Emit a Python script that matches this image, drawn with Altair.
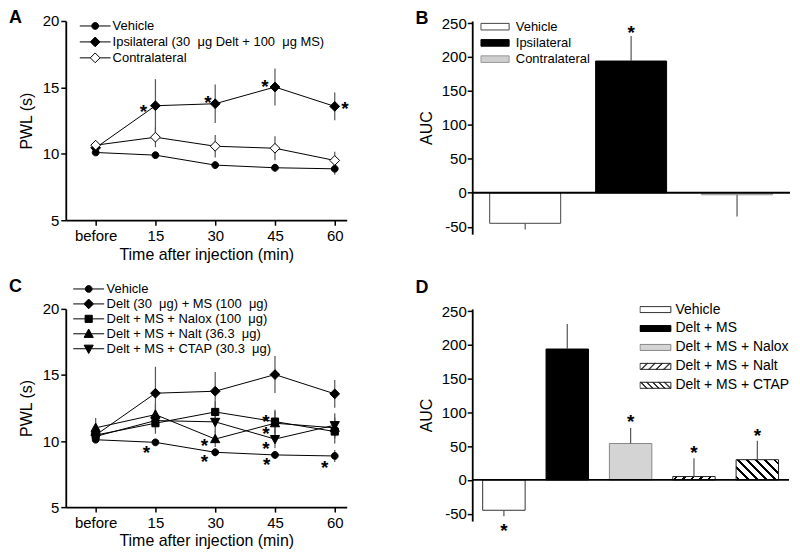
import altair as alt
import pandas as pd

FONT = "Liberation Sans"
MU = "\u03bc"
GAP = "\u00a0 "

# ---------------- data ----------------
time_labels = ["before", "15", "30", "45", "60"]
time_index = [0, 1, 2, 3, 4]
pwl_ticks = [5, 10, 15, 20]
auc_ticks = [-50, 0, 50, 100, 150, 200, 250]

a_series = ["Vehicle",
            f"Ipsilateral (30{GAP}{MU}g Delt + 100{GAP}{MU}g MS)",
            "Contralateral"]
vehicle_pwl = [10.10, 9.90, 9.15, 8.95, 8.87]
vehicle_sem = [0.20, 0.20, 0.30, 0.30, 0.45]
delt_ms_pwl = [10.45, 13.62, 13.77, 15.03, 13.57]
delt_ms_sem = [0.20, 2.00, 1.45, 1.40, 1.05]
contra_pwl = [10.65, 11.25, 10.57, 10.42, 9.50]
contra_sem = [0.20, 0.75, 0.85, 0.90, 0.65]

c_series = ["Vehicle",
            f"Delt (30{GAP}{MU}g) + MS (100{GAP}{MU}g)",
            f"Delt + MS + Nalox (100{GAP}{MU}g)",
            f"Delt + MS + Nalt (36.3{GAP}{MU}g)",
            f"Delt + MS + CTAP (30.3{GAP}{MU}g)"]
nalox_pwl = [10.45, 11.35, 12.20, 11.47, 10.72]
nalox_sem = [0.30, 0.80, 0.80, 0.90, 0.90]
nalt_pwl = [11.00, 12.00, 10.15, 11.35, 11.00]
nalt_sem = [0.75, 0.80, 0.60, 0.90, 0.80]
ctap_pwl = [10.35, 11.55, 11.45, 10.15, 11.20]
ctap_sem = [0.30, 0.70, 0.80, 0.70, 0.90]

b_groups = ["Vehicle", "Ipsilateral", "Contralateral"]
b_auc = [-45, 194, -3]
b_sem = [9, 37, 32]

d_groups = ["Vehicle", "Delt + MS", "Delt + MS + Nalox", "Delt + MS + Nalt", "Delt + MS + CTAP"]
d_auc = [-45, 194, 54, 5, 30]
d_sem = [9, 37, 23, 27, 28]

# significance asterisks (data coordinates)
a_star_x = [0.80, 1.88, 2.83, 4.17]
a_star_y = [13.55, 14.23, 15.43, 13.78]
c_star_x = [0.85, 1.82, 1.82, 2.85, 2.85, 2.85, 2.86, 3.83]
c_star_y = [9.45, 10.03, 8.79, 11.84, 10.90, 9.79, 8.57, 8.32]
b_star_group = ["Ipsilateral"]
b_star_y = [242.7]
d_star_group = ["Vehicle", "Delt + MS + Nalox", "Delt + MS + Nalt", "Delt + MS + CTAP"]
d_star_y = [-68.4, 93.6, 46.8, 72.9]

# ---------------- layout / style ----------------
LW, LH = 282, 200      # line panels
CH = 199
B_W, B_H, B_DOM = 319, 214, [-61, 253]
D_W, D_H, D_DOM = 318, 213, [-61, 253.5]
PAD_IN, PAD_OUT = 0.33, 0.165


def num(v):
    s = f"{v:.4f}".rstrip("0").rstrip(".")
    return "0" if s in ("", "-0") else s


MARKER_PX = {"circle": 3.4, "diamond": 4.9, "square": 3.6,
             "up": (4.6, -4.8, 3.6), "down": (4.6, 4.8, -3.6)}


def marker_path(kind, unit, with_line=False):
    def p(v):
        return num(v / unit)
    if kind == "circle":
        r = MARKER_PX[kind]; edge = r
        body = f"M{p(-r)},0A{p(r)},{p(r)},0,1,0,{p(r)},0A{p(r)},{p(r)},0,1,0,{p(-r)},0Z"
    elif kind == "diamond":
        r = MARKER_PX[kind]; edge = r
        body = f"M{p(-r)},0L0,{p(-r)}L{p(r)},0L0,{p(r)}Z"
    elif kind == "square":
        r = MARKER_PX[kind]; edge = r
        body = f"M{p(-r)},{p(-r)}H{p(r)}V{p(r)}H{p(-r)}Z"
    else:
        hw, apex, base = MARKER_PX[kind]
        edge = hw * abs(apex) / abs(base - apex)
        body = f"M0,{p(apex)}L{p(hw)},{p(base)}L{p(-hw)},{p(base)}Z"
    if with_line:
        return f"M-1,0H{p(-edge)}M{p(edge)},0H1" + body
    return body


def rect_path(hw, hh, unit):
    return f"M{num(-hw/unit)},{num(-hh/unit)}H{num(hw/unit)}V{num(hh/unit)}H{num(-hw/unit)}Z"


def hatch_path(hw, hh, unit, direction, starts, slant=6.0, width=0.8):
    out = rect_path(hw, hh, unit)
    for b in starts:
        if direction == "/":
            pts = [(b, hh), (b + slant, -hh), (b + slant + width, -hh), (b + width, hh)]
        else:
            pts = [(b, -hh), (b + width, -hh), (b + slant + width, hh), (b + slant, hh)]
        out += "M" + "L".join(f"{num(x/unit)},{num(y/unit)}" for x, y in pts) + "Z"
    return out


def hatch_fill(w, h, direction, period, black, phase=0.0):
    k = (w + h) / (w * w + h * h)
    if direction == "/":
        x1, y1, x2, y2 = 0, 0, w * k, h * k
    else:
        x1, y1, x2, y2 = 0, 1, w * k, 1 - h * k
    total = w + h
    stops = [{"offset": 0, "color": "white"}]
    s = phase - period
    while s < total:
        a, b = max(s, 0.0), min(s + black, total)
        if b > a:
            stops += [{"offset": a / total, "color": "white"},
                      {"offset": a / total, "color": "black"},
                      {"offset": b / total, "color": "black"},
                      {"offset": b / total, "color": "white"}]
        s += period
    stops.append({"offset": 1, "color": "white"})
    return {"gradient": "linear", "x1": x1, "y1": y1, "x2": x2, "y2": y2, "stops": stops}


def legend_kw(x, y, clip, pad, offset, size, fs):
    return dict(orient="none", legendX=x, legendY=y, title=None, padding=0, rowPadding=pad,
                clipHeight=clip, labelOffset=offset, symbolSize=size, symbolOffset=0,
                symbolStrokeWidth=1, symbolOpacity=1,
                labelFont=FONT, labelFontSize=fs, labelColor="black", labelLimit=600)


def title_kw(text, offset):
    return alt.TitleParams(text=text, anchor="start", frame="group", dx=-57, offset=offset,
                           baseline="top", fontSize=18, fontWeight="bold", font=FONT, color="black")


STAR = dict(text="*", fontSize=19, fontWeight="bold", dy=5, color="black", font=FONT)
INDEP = dict(color="independent", fill="independent", stroke="independent", shape="independent")


def legend_layer(base, field, domain, fills, strokes, paths, leg, size, X, Y):
    # carries only the legend: no rows reach the marks, the scales have explicit domains
    return base.transform_filter("false").mark_point(
        filled=True, size=size, strokeWidth=1).encode(
        x=X, y=Y,
        color=alt.Color(f"{field}:N", scale=alt.Scale(domain=domain, range=fills),
                        legend=alt.Legend(**leg)),
        stroke=alt.Stroke(f"{field}:N", scale=alt.Scale(domain=domain, range=strokes),
                          legend=alt.Legend(**leg)),
        shape=alt.Shape(f"{field}:N", scale=alt.Scale(domain=domain, range=paths),
                        legend=alt.Legend(**leg)))


def line_panel(series, kinds, fills, pwl, sem, star_x, star_y, leg, title, W, H):
    rows = []
    for name, vals, errs in zip(series, pwl, sem):
        for t, v, e in zip(time_index, vals, errs):
            rows.append({"series": name, "t": t, "v": v, "lo": v - e, "hi": v + e})
    df = pd.DataFrame(rows)
    label_expr = "[" + ",".join(f"'{l}'" for l in time_labels) + "][datum.value]"
    x_scale = alt.Scale(domain=[-0.5, 4.2], nice=False, zero=False)
    y_scale = alt.Scale(domain=[5, 20], nice=False, zero=False)
    x_axis = alt.Axis(values=time_index, labelExpr=label_expr, title="Time after injection (min)",
                      tickSize=5, labelPadding=3, titlePadding=3, labelFlush=False, labelOverlap=False)
    y_axis = alt.Axis(values=pwl_ticks, title="PWL (s)", tickSize=5, labelPadding=2, titlePadding=8,
                      labelFlush=False, labelOverlap=False)

    def X(f):
        return alt.X(f"{f}:Q", scale=x_scale, axis=x_axis)

    def Y(f):
        return alt.Y(f"{f}:Q", scale=y_scale, axis=y_axis)

    base = alt.Chart(df)
    err = base.mark_rule(color="#555", strokeWidth=1.2).encode(
        x=X("t"), y=Y("lo"), y2=alt.Y2("hi:Q"), detail="series:N")
    lines = base.mark_line(color="black", strokeWidth=1).encode(
        x=X("t"), y=Y("v"), detail="series:N")
    layers = [err, lines]
    for name, kind, fill in zip(series, kinds, fills):
        layers.append(base.transform_filter(alt.FieldEqualPredicate(field="series", equal=name)).mark_point(
            shape=marker_path(kind, 5), filled=True, fill=fill, stroke="black", strokeWidth=1,
            size=100, opacity=1).encode(x=X("t"), y=Y("v")))
    layers.append(legend_layer(base, "series", series, fills, ["black"] * len(series),
                               [marker_path(k, 15.5, True) for k in kinds], leg, 961, X("t"), Y("v")))
    layers.append(alt.Chart(pd.DataFrame({"sx": star_x, "sy": star_y})).mark_text(**STAR).encode(
        x=X("sx"), y=Y("sy")))
    return alt.layer(*layers).properties(width=W, height=H, title=title)


def bar_panel(groups, auc, sem, fills, strokes, leg_paths, hatches, star_groups, star_y,
              leg, size, title, W, H, dom):
    df = pd.DataFrame({"g": groups, "v": auc, "e": sem})
    x = alt.X("g:N", scale=alt.Scale(domain=groups, paddingInner=PAD_IN, paddingOuter=PAD_OUT),
              axis=None)
    y_axis = alt.Axis(values=auc_ticks, title="AUC", tickSize=5, labelPadding=1, titlePadding=7,
                      labelFlush=False, labelOverlap=False,
                      labelExpr="datum.value < 0 ? '-' + abs(datum.value) : '' + datum.value")
    y_scale = alt.Scale(domain=dom, nice=False)

    def Y(f):
        return alt.Y(f"{f}:Q", scale=y_scale, axis=y_axis)

    base = alt.Chart(df)
    layers = []
    for gname, fill, stroke in zip(groups, fills, strokes):
        layers.append(base.transform_filter(alt.FieldEqualPredicate(field="g", equal=gname)).mark_bar(
            fill=hatches.get(gname, fill), stroke=stroke, strokeWidth=1).encode(x=x, y=Y("v")))
    err = base.transform_calculate(end="datum.v + (datum.v < 0 ? -1 : 1) * datum.e").mark_rule(
        color="#555", strokeWidth=1.2).encode(x=x, y=Y("v"), y2=alt.Y2("end:Q"))
    zero = alt.Chart(pd.DataFrame({"z": [0]})).mark_rule(color="black", strokeWidth=1.8).encode(
        y=Y("z"))
    stars = alt.Chart(pd.DataFrame({"g": star_groups, "sy": star_y})).mark_text(**STAR).encode(
        x=x, y=Y("sy"))
    layers += [err, zero,
               legend_layer(base, "g", groups, fills, strokes, leg_paths, leg, size, x, Y("v")),
               stars]
    return alt.layer(*layers).properties(width=W, height=H, title=title)


# ---------------- panels ----------------
panel_a = line_panel(a_series, ["circle", "diamond", "diamond"], ["black", "black", "white"],
                     [vehicle_pwl, delt_ms_pwl, contra_pwl], [vehicle_sem, delt_ms_sem, contra_sem],
                     a_star_x, a_star_y, legend_kw(13.5, -2.5, 15, 1.0, 1.5, 961, 13),
                     title_kw("A", -13.5), LW, LH)

panel_c = line_panel(c_series, ["circle", "diamond", "square", "up", "down"], ["black"] * 5,
                     [vehicle_pwl, delt_ms_pwl, nalox_pwl, nalt_pwl, ctap_pwl],
                     [vehicle_sem, delt_ms_sem, nalox_sem, nalt_sem, ctap_sem],
                     c_star_x, c_star_y, legend_kw(7, -27.5, 15, -0.8, 2, 961, 13),
                     title_kw("C", -14.5), LW, CH)

b_unit = 14.15
panel_b = bar_panel(b_groups, b_auc, b_sem, ["white", "black", "#cfcfcf"], ["#444", "black", "#999"],
                    [rect_path(14.15, 3.3, b_unit)] * 3, {}, b_star_group, b_star_y,
                    legend_kw(7.9, -1.8, 15, 1.3, 5.85, 801, 13), 801, title_kw("B", -11.7),
                    B_W, B_H, B_DOM)

d_unit = 15.5
d_step = D_W / (len(d_groups) - PAD_IN + 2 * PAD_OUT)
d_band = d_step * (1 - PAD_IN)
d_px = D_H / (D_DOM[1] - D_DOM[0])
d_leg_paths = [rect_path(15.5, 3, d_unit)] * 3 + [
    hatch_path(15.5, 3, d_unit, "/", [-14.5, -7, 0.5, 8]),
    hatch_path(15.5, 3, d_unit, "\\", [-15, -9, -3, 3, 8.7])]
d_hatches = {
    "Delt + MS + Nalt": hatch_fill(d_band, d_auc[3] * d_px, "/", 8.5, 2.5, 3.0),
    "Delt + MS + CTAP": hatch_fill(d_band, d_auc[4] * d_px, "\\", 9.2, 2.8, 1.9),
}
panel_d = bar_panel(d_groups, d_auc, d_sem, ["white", "black", "#d4d4d4", "white", "white"],
                    ["#333", "black", "#888", "#222", "#222"], d_leg_paths, d_hatches,
                    d_star_group, d_star_y, legend_kw(167.9, -7.5, 16.4, 2, 4.1, 961, 14), 961,
                    title_kw("D", 4.8), D_W, D_H, D_DOM)

chart = alt.concat(panel_a, panel_b, panel_c, panel_d, columns=2,
                   spacing={"row": 75, "column": 126}, bounds="flush", align="each").resolve_scale(
    **INDEP).properties(
    padding=0, background="white"
).configure(font=FONT).configure_view(stroke="transparent").configure_axis(
    domainColor="black", domainWidth=1.8, tickColor="black", tickWidth=1.5,
    labelColor="black", titleColor="black", labelFontSize=15, titleFontSize=16,
    titleFontWeight="normal", grid=False, labelFont=FONT, titleFont=FONT)

chart.save("out.html", embed_options={"renderer": "svg", "actions": False})
